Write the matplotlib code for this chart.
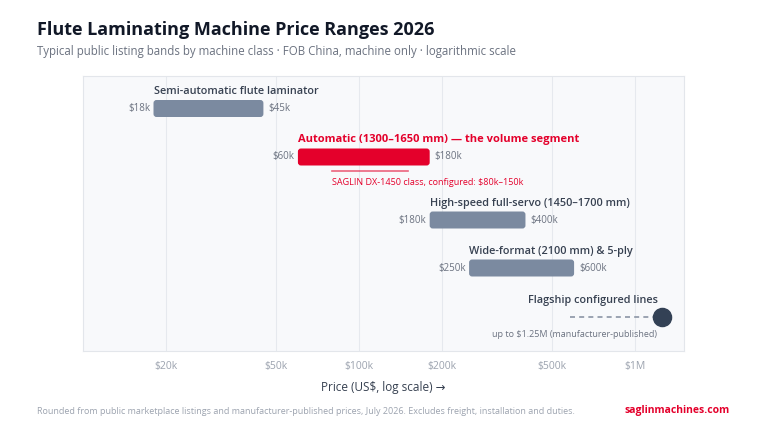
import numpy as np
import matplotlib
matplotlib.use("Agg")
import matplotlib.pyplot as plt
from matplotlib.patches import FancyBboxPatch
from matplotlib.transforms import IdentityTransform

plt.rcParams['font.family'] = ['Open Sans', 'DejaVu Sans']

# data
classes = ["Semi-automatic flute laminator",
           "Automatic (1300\u20131650 mm) \u2014 the volume segment",
           "High-speed full-servo (1450\u20131700 mm)",
           "Wide-format (2100 mm) & 5-ply"]
low = [18e3, 60e3, 180e3, 250e3]
high = [45e3, 180e3, 400e3, 600e3]
low_labels = ["$18k", "$60k", "$180k", "$250k"]
high_labels = ["$45k", "$180k", "$400k", "$600k"]
highlight = 1
saglin_range = [80e3, 150e3]
flagship_label = "Flagship configured lines"
flagship_max = 1.25e6
flagship_from = 580e3
tick_vals = [20e3, 50e3, 100e3, 200e3, 500e3, 1e6]
tick_labels = ["$20k", "$50k", "$100k", "$200k", "$500k", "$1M"]

# layout (row centres, top-down)
rows = [32.5, 81, 144, 192]
flag_row = 241

GREY = "#7b8aa0"
RED = "#e4002b"
LABEL = "#374151"
MUTED = "#6b7280"

fig = plt.figure(figsize=(7.68, 4.32), dpi=100)
ax = fig.add_axes([83/768, 1-351/432, 601/768, 275/432])
ax.set_xscale("log")
ax.set_xlim(10e3, 1.5e6)
ax.set_ylim(275, 0)
ax.set_facecolor("#f8f9fb")
for s in ax.spines.values():
    s.set_color("#e3e6eb")
ax.set_xticks(tick_vals)
ax.set_xticklabels(tick_labels)
ax.xaxis.set_minor_locator(matplotlib.ticker.NullLocator())
ax.tick_params(axis="x", length=0, pad=7, labelsize=7.5, labelcolor="#9ca3af")
ax.set_yticks([])
ax.grid(axis="x", color="#e6e9ee", lw=0.8)
ax.set_axisbelow(True)
ax.set_xlabel("Price (US$, log scale) \u2192", fontsize=8.5, color=LABEL, labelpad=7)

fig.canvas.draw()
bar_h = 17  # px
for i, (lo, hi) in enumerate(zip(low, high)):
    y = rows[i]
    col = RED if i == highlight else GREY
    (x0, yc), = ax.transData.transform([(lo, y)])
    (x1, _), = ax.transData.transform([(hi, y)])
    patch = FancyBboxPatch((x0, yc - bar_h/2), x1 - x0, bar_h,
                           boxstyle="round,pad=0,rounding_size=3",
                           transform=IdentityTransform(), fc=col, ec="none", zorder=3)
    ax.add_artist(patch)
    ax.annotate(low_labels[i], (lo, y), xytext=(-2.5, 0), textcoords="offset points",
                ha="right", va="center", fontsize=7, color=MUTED)
    ax.annotate(high_labels[i], (hi, y), xytext=(3.5, 0), textcoords="offset points",
                ha="left", va="center", fontsize=7, color=MUTED)
    if i == highlight:
        ax.annotate(classes[i], (lo, y), xytext=(0, 12.5), textcoords="offset points",
                    ha="left", va="center", fontsize=8, fontweight="bold", color=RED)
    else:
        ax.annotate(classes[i], (lo, y), xytext=(0, 12), textcoords="offset points",
                    ha="left", va="center", fontsize=7.8, fontweight="semibold", color=LABEL)

# SAGLIN band under the automatic bar
ys = rows[highlight] + 14
ax.plot(saglin_range, [ys, ys], color=RED, lw=1.2, alpha=0.6, zorder=3)
ax.annotate("SAGLIN DX-1450 class, configured: $80k\u2013150k", (saglin_range[0], ys),
            xytext=(0, -8), textcoords="offset points", ha="left", va="center",
            fontsize=6.5, color=RED)

# flagship point
ax.plot([flagship_from, flagship_max], [flag_row, flag_row], color="#8b95a5",
        lw=1.2, ls=(0, (3, 2.5)), zorder=3)
ax.scatter([flagship_max], [flag_row], s=170, color="#334155", zorder=4)
ax.annotate(flagship_label, (flagship_max, flag_row), xytext=(-3, 12), textcoords="offset points",
            ha="right", va="center", fontsize=7.8, fontweight="semibold", color=LABEL)
ax.annotate("up to $1.25M (manufacturer-published)", (flagship_max, flag_row),
            xytext=(-4, -12.5), textcoords="offset points", ha="right", va="center",
            fontsize=6.5, color=MUTED)

fig.text(37/768, 1-30/432, "Flute Laminating Machine Price Ranges 2026", fontsize=13,
         fontweight="bold", color="#111827", va="center")
fig.text(37/768, 1-51/432, "Typical public listing bands by machine class \u00b7 FOB China, machine only \u00b7 logarithmic scale",
         fontsize=8.3, color=MUTED, va="center")
fig.text(37/768, 1-411/432, "Rounded from public marketplace listings and manufacturer-published prices, July 2026. Excludes freight, installation and duties.",
         fontsize=6.5, color="#9ca3af", va="center")
fig.text(730/768, 1-411/432, "saglinmachines.com", fontsize=7.5, fontweight="bold",
         color=RED, va="center", ha="right")

fig.savefig("out.png", dpi=100)
